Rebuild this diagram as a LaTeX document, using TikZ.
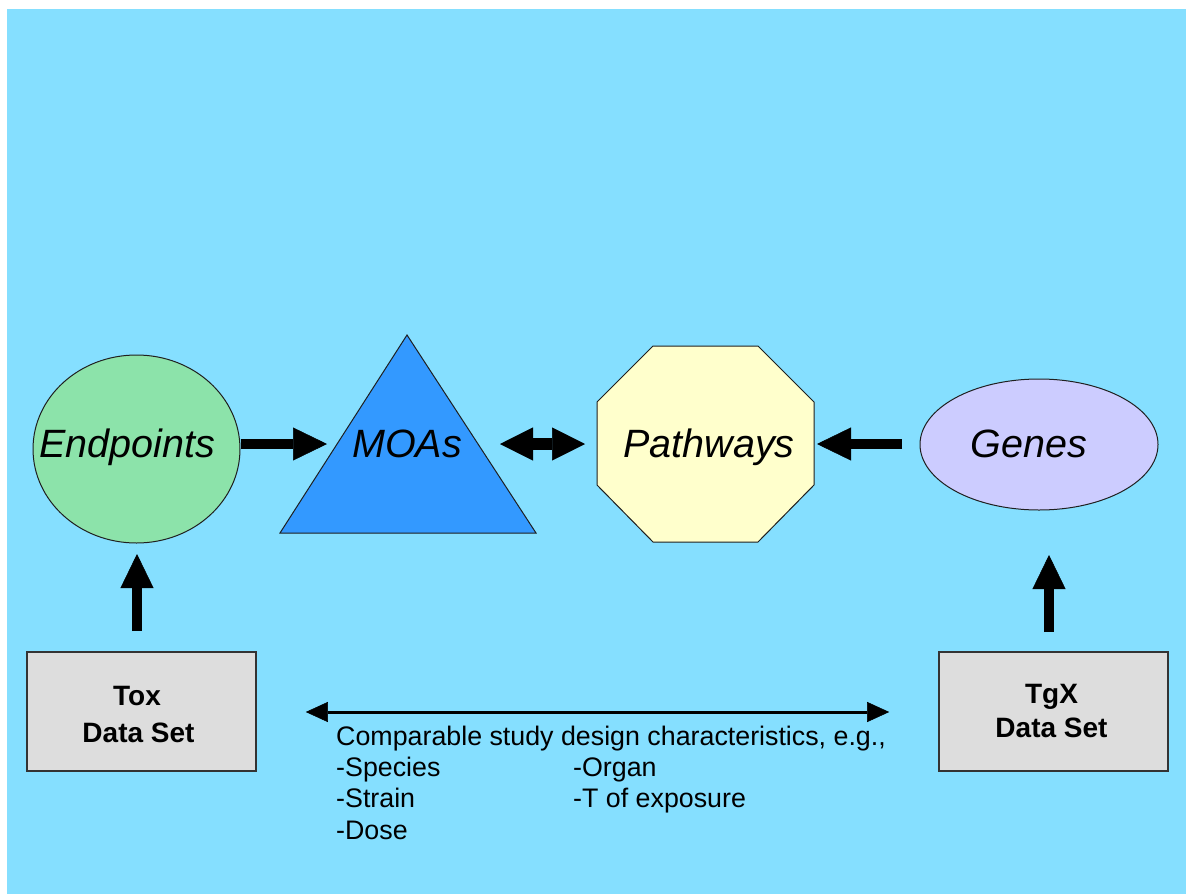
\documentclass[tikz,border=0pt]{standalone}
\usepackage{fontspec}
\setmainfont{Liberation Sans}
\usetikzlibrary{shapes.geometric,arrows.meta,calc}

\definecolor{bg}{RGB}{133,223,255}
\definecolor{epfill}{RGB}{140,227,170}
\definecolor{moafill}{RGB}{51,153,255}
\definecolor{pwfill}{RGB}{255,255,204}
\definecolor{gnfill}{RGB}{204,204,255}
\definecolor{dsfill}{RGB}{221,221,221}

\tikzset{
  outline/.style={draw=black!88, line width=1pt},
  nodetext/.style={font=\fontsize{39.5}{47}\selectfont\itshape, anchor=base, inner sep=0pt},
  dsbox/.style={draw=black!80, line width=1.6pt, fill=dsfill,
                minimum width=229pt, minimum height=119pt, inner sep=0pt},
  dstext/.style={font=\fontsize{28}{33}\selectfont\bfseries, anchor=base, inner sep=0pt},
  note/.style={font=\fontsize{26.8}{32}\selectfont, anchor=base west, inner sep=0pt},
  bigarrow/.style={line width=10pt,
                   -{Triangle[length=34pt,width=33pt,line width=0.5pt]}},
  twinarrow/.style={line width=12pt,
                   {Triangle[length=33pt,width=33pt,line width=0.5pt]}-{Triangle[length=33pt,width=33pt,line width=0.5pt]}},
  thinarrow/.style={line width=3pt,
                   {Triangle[length=22pt,width=20pt,line width=0.5pt]}-{Triangle[length=22pt,width=20pt,line width=0.5pt]}},
}

\begin{document}
\begin{tikzpicture}[x=1pt,y=-1pt]
  \useasboundingbox (0,0) rectangle (1186,894);
  \fill[white] (0,0) rectangle (1186,894);
  \fill[bg] (7,9) rectangle (1186,894);

  % main shapes
  \node[outline, ellipse, fill=epfill, minimum width=207pt, minimum height=188pt, inner sep=0pt] (ep) at (136.5,449) {};
  \node[nodetext] (eplab) at (127,457) {Endpoints};

  \filldraw[outline, fill=moafill] (407,335) -- (536,533) -- (280,533) -- cycle;
  \node[nodetext] (moa) at (407,457) {MOAs};

  \filldraw[outline, fill=pwfill] (653,346) -- (758,346) -- (814,402) -- (814,485)
      -- (758,542) -- (653,542) -- (597,485) -- (597,402) -- cycle;
  \node[nodetext] (pw) at (709,457) {Pathways};

  \node[outline, ellipse, fill=gnfill, minimum width=238pt, minimum height=131pt, inner sep=0pt] (gn) at (1039,444.5) {};
  \node[nodetext] (gnlab) at (1029,457) {Genes};

  % data sets
  \node[dsbox] (tox) at (141.5,711.5) {};
  \node[dstext] (toxa) at (137,705) {Tox};
  \node[dstext] (toxb) at (138.5,742) {Data Set};

  \node[dsbox] (tgx) at (1053.5,711.5) {};
  \node[dstext] (tgxa) at (1051.5,703) {TgX};
  \node[dstext] (tgxb) at (1051.5,737) {Data Set};

  % arrow end points at the shapes
  \coordinate (moaW) at (327,444);
  \coordinate (moaE) at (500,444);
  \coordinate (pwW) at (585,444);
  \coordinate (pwE) at (817,444);
  \coordinate (gnW) at (902,444);
  \coordinate (epS) at (137,554);
  \coordinate (toxN) at (137,631);
  \coordinate (gnS) at (1049,555);
  \coordinate (tgxN) at (1049,632);

  % connectors
  \draw[bigarrow] (ep.east |- moaW) -- (moaW);
  \draw[twinarrow] (moaE) -- (pwW);
  \draw[bigarrow] (gnW) -- (pwE);
  \draw[bigarrow] (toxN) -- (epS);
  \draw[bigarrow] (tgxN) -- (gnS);
  \draw[thinarrow, shorten <=49pt, shorten >=49pt] (tox.east |- 0,712) -- (tgx.west |- 0,712);

  % study design note
  \node[note] (n0) at (336,745) {Comparable study design characteristics, e.g.,};
  \node[note] (n1) at (336,776) {-Species};
  \node[note] (n2) at (336,807) {-Strain};
  \node[note] (n3) at (336,839) {-Dose};
  \node[note] (n4) at (573,776) {-Organ};
  \node[note] (n5) at (573,807) {-T of exposure};
\end{tikzpicture}
\end{document}
